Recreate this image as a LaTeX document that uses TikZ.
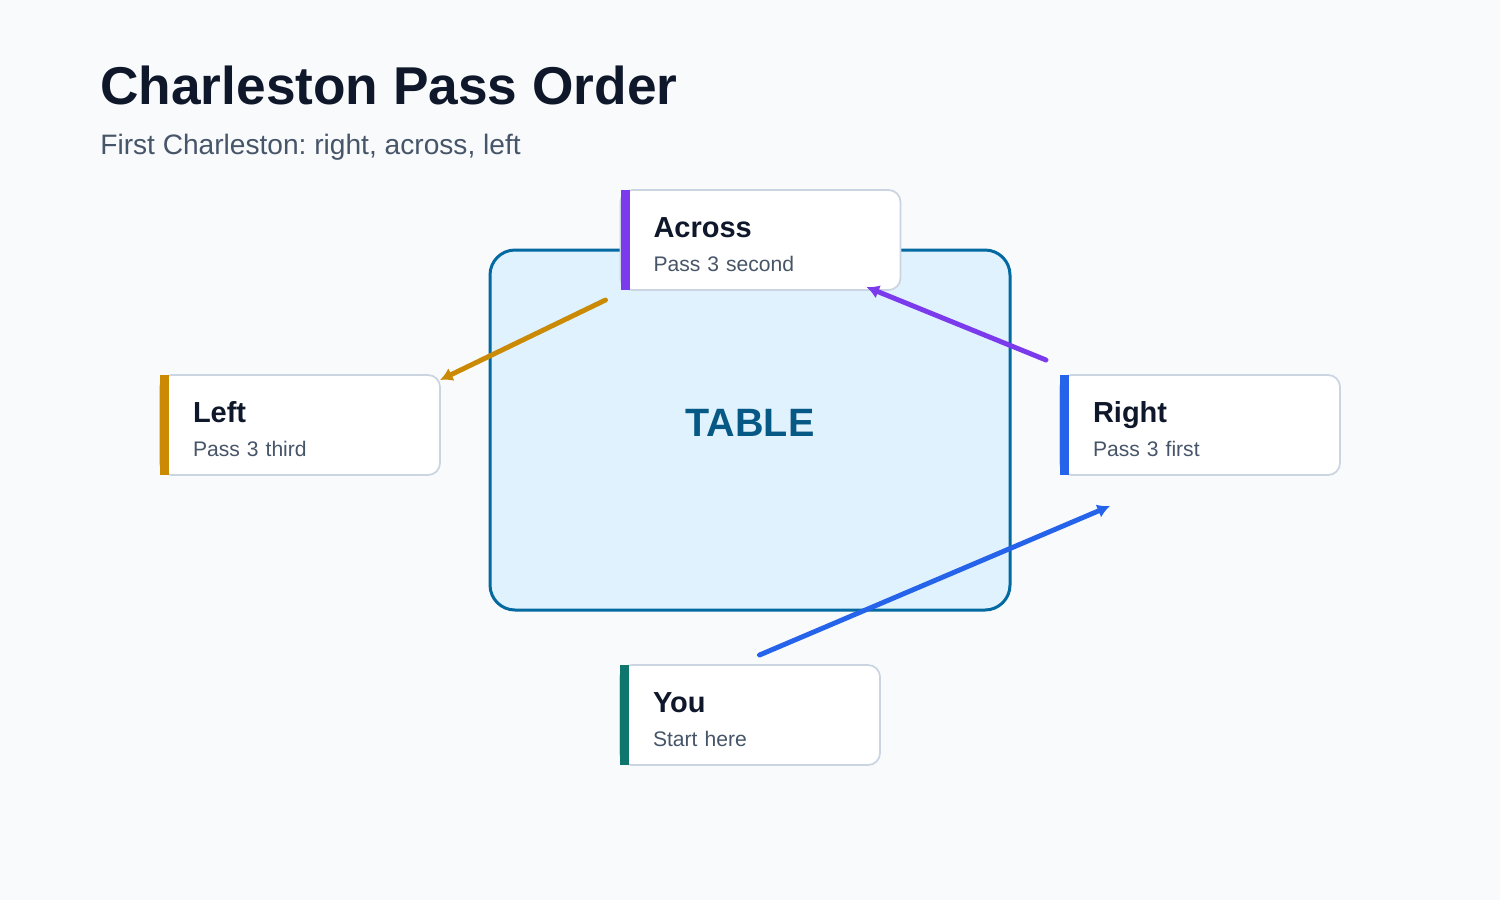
\documentclass[tikz,border=0pt]{standalone}
\usepackage{fontspec}
\setmainfont{Liberation Sans}
\usetikzlibrary{arrows.meta, positioning}
\frenchspacing
\definecolor{bgcolor}{RGB}{248,250,252}
\definecolor{titlecolor}{RGB}{15,23,42}
\definecolor{subcolor}{RGB}{71,85,105}
\definecolor{tablefill}{RGB}{224,242,254}
\definecolor{tableline}{RGB}{3,105,161}
\definecolor{tabletext}{RGB}{7,89,133}
\definecolor{cardline}{RGB}{203,213,225}
\definecolor{acrosscolor}{RGB}{124,58,237}
\definecolor{leftcolor}{RGB}{202,138,4}
\definecolor{rightcolor}{RGB}{37,99,235}
\definecolor{youcolor}{RGB}{15,118,110}
\tikzset{
    card/.style={rectangle, draw=cardline, fill=white, rounded corners=0.24cm, line width=1pt,
        inner xsep=0.66cm, inner ysep=0pt, outer sep=0pt, text width=4.28cm, align=left,
        text height=0.94cm, text depth=1.06cm, text=subcolor,
        font=\fontsize{12}{19.4}\selectfont},
    tablebox/.style={rectangle, draw=tableline, fill=tablefill, line width=1.7pt,
        rounded corners=0.5cm, minimum width=10.4cm, minimum height=7.2cm, outer sep=0pt},
    heading/.style={anchor=base west, inner sep=0pt},
    pass/.style={-{Latex[length=2.5mm,width=2.8mm]}, line width=2.8pt, line cap=round}
}
\newcommand{\cardhead}[1]{{\fontsize{16.5}{19.4}\selectfont\bfseries\color{titlecolor}#1}}
\newcommand{\seatbar}[2]{\fill[#2] (#1.north west) rectangle ([xshift=0.18cm]#1.south west);}

\begin{document}
\begin{tikzpicture}[node distance=1cm]

    \fill[bgcolor] (0,0) rectangle (30,-18);
    \useasboundingbox (0,0) rectangle (30,-18);

    \node[heading, text=titlecolor, font=\fontsize{30.3}{34}\selectfont\bfseries] (title) at (2,-2.08) {Charleston Pass Order};
    \node[heading, text=subcolor, font=\fontsize{16}{19}\selectfont] (subtitle) at (2,-3.08) {First Charleston: right, across, left};

    \node[tablebox] (table) at (15,-8.6) {};
    \node[text=tabletext, font=\fontsize{22.5}{26}\selectfont\bfseries] (tablename) at ([yshift=0.14cm]table.center) {TABLE};

    \node[card, above=-0.8cm of table, xshift=0.21cm] (across) {\cardhead{Across}\\Pass 3 second};
    \seatbar{across}{acrosscolor}

    \node[card, left=of table, yshift=0.1cm] (left) {\cardhead{Left}\\Pass 3 third};
    \seatbar{left}{leftcolor}

    \node[card, right=of table, yshift=0.1cm] (right) {\cardhead{Right}\\Pass 3 first};
    \seatbar{right}{rightcolor}

    \node[card, text width=3.88cm, below=1.1cm of table] (you) {\cardhead{You}\\Start here};
    \seatbar{you}{youcolor}

    \draw[pass, rightcolor] ([shift={(0.19,0.2)}]you.north) -- ([shift={(1,-0.62)}]right.south west);
    \draw[pass, acrosscolor] ([shift={(-0.28,0.3)}]right.north west) -- ([shift={(-0.68,0.06)}]across.south east);
    \draw[pass, leftcolor] ([shift={(-0.3,-0.2)}]across.south west) -- ([yshift=-0.1cm]left.north east);

\end{tikzpicture}
\end{document}
